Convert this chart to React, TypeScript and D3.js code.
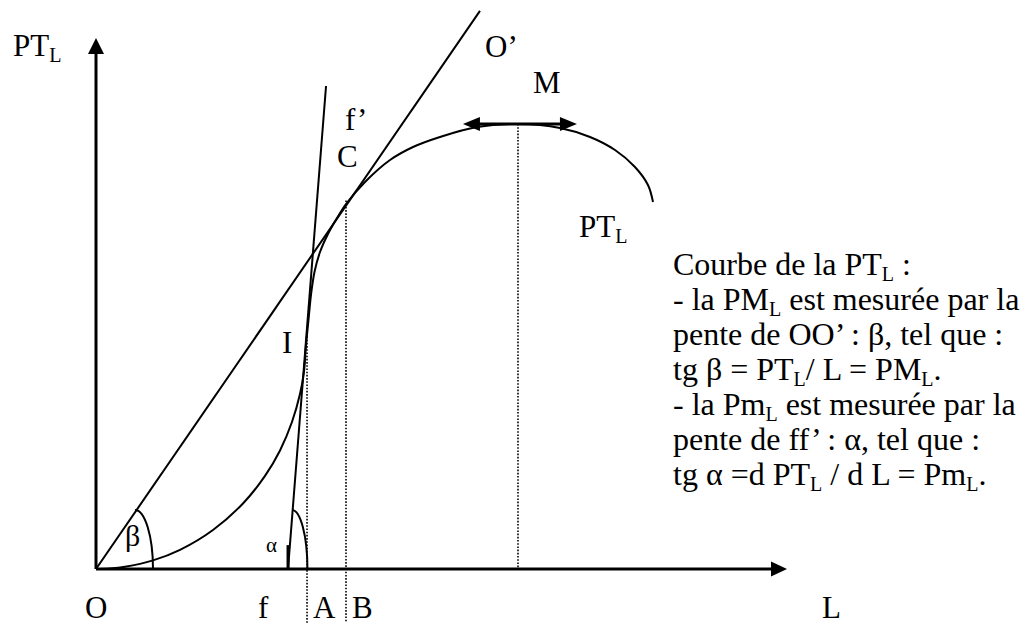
import React from "react";
import * as d3 from "d3";

const W = 1030;
const H = 623;

// Courbe de la PT_L (L, PT_L) in schematic units (axes run 0..100)
const curveL = [0, 2.03, 4.2, 8.25, 12.16, 16.93, 21.27, 24.46, 26.63, 28.36, 29.52, 30.1, 30.39, 30.75, 31.11, 31.62, 32.42, 33.57, 34.88, 36.18, 38.93, 42.55, 45.88, 49.78, 55.14, 61.07, 67.15, 71.49, 75.11, 78.0, 79.88, 80.61];
const curvePT = [0, 0.09, 0.41, 1.62, 3.6, 7.34, 12.34, 17.53, 22.33, 27.68, 32.96, 37.18, 42.18, 46.89, 51.6, 55.93, 59.7, 63.09, 66.1, 68.74, 72.88, 77.02, 79.47, 81.36, 83.24, 83.8, 83.05, 81.36, 78.91, 75.71, 72.32, 69.11];

// Rayon OO' (tangent at C) and tangent ff' (at I)
const rayL = [0, 55.57];
const rayPT = [0, 105.1];
const ffL = [27.79, 33.29];
const ffPT = [0, 90.96];

// Dotted guides: A, B, M
const guideL = [30.54, 36.18, 61.07];
const guideTopPT = [44.4, 69.4, 83.8];
const guideBottomPT = [-10.2, -10.2, 0];

// Horizontal double arrow at the maximum M
const arrowML = [53.1, 69.6];
const arrowMPT = 83.8;

// Angle arcs: [top point, foot point]
const betaArcL = [5.64, 8.25];
const betaArcPT = [11.11, 0];
const alphaArcL = [28.36, 30.6];
const alphaArcPT = [11.11, 0];
const alphaTickPT = [0, 4.5];

const axisMax = 100;

const x = d3.scaleLinear().domain([0, axisMax]).range([96, 787]);
const y = d3.scaleLinear().domain([0, axisMax]).range([569, 38]);

const FONT = "'Liberation Serif', 'Times New Roman', serif";
const FS = 31;
const BFS = 32;
const SUB = 20;
const SUBDY = 6;

type Seg = { t: string; sub?: boolean };

function RichText({ x: px, y: py, segs, size = FS }: { x: number; y: number; segs: Seg[]; size?: number }) {
  let shifted = false;
  return (
    <text x={px} y={py} fontFamily={FONT} fontSize={size} fill="#000" style={{ whiteSpace: "pre" }}>
      {segs.map((s, i) => {
        let dy = 0;
        if (s.sub && !shifted) { dy = SUBDY; shifted = true; }
        else if (!s.sub && shifted) { dy = -SUBDY; shifted = false; }
        return (
          <tspan key={i} dy={dy} fontSize={s.sub ? SUB : size}>{s.t}</tspan>
        );
      })}
    </text>
  );
}

const blockLines: Seg[][] = [
  [{ t: "Courbe de la PT" }, { t: "L", sub: true }, { t: " :" }],
  [{ t: "- la PM" }, { t: "L", sub: true }, { t: " est mesurée par la" }],
  [{ t: "pente de OO’ : β, tel que :" }],
  [{ t: "tg β = PT" }, { t: "L", sub: true }, { t: "/ L = PM" }, { t: "L", sub: true }, { t: "." }],
  [{ t: "- la Pm" }, { t: "L", sub: true }, { t: " est mesurée par la" }],
  [{ t: "pente de ff’ : α, tel que :" }],
  [{ t: "tg α =d PT" }, { t: "L", sub: true }, { t: " / d L = Pm" }, { t: "L", sub: true }, { t: "." }],
];

export default function App() {
  const pts: [number, number][] = curveL.map((l, i) => [l, curvePT[i]]);
  const curvePath = d3
    .line<[number, number]>()
    .x((d) => x(d[0]))
    .y((d) => y(d[1]))
    .curve(d3.curveCatmullRom.alpha(0.5))(pts) as string;

  const x0 = x(0), y0 = y(0);
  const xEnd = x(axisMax), yEnd = y(axisMax);

  const arcPath = (L: number[], P: number[]) => {
    const sx = x(L[0]), sy = y(P[0]), ex = x(L[1]), ey = y(P[1]);
    return `M${sx},${sy} A${Math.abs(ex - sx)},${Math.abs(ey - sy)} 0 0 1 ${ex},${ey}`;
  };

  const ay = y(arrowMPT);
  const axL = x(arrowML[0]);
  const axR = x(arrowML[1]);

  return (
    <svg width={W} height={H} style={{ position: "absolute", left: 0, top: 0, background: "#fff" }}>
      <rect width={W} height={H} fill="#fff" />
      {/* dotted guides */}
      {guideL.map((l, i) => (
        <line key={i} x1={x(l)} x2={x(l)} y1={y(guideTopPT[i])} y2={y(guideBottomPT[i])}
          stroke="#000" strokeWidth={1.6} strokeDasharray="1.6 1.6" />
      ))}
      {/* axes */}
      <line x1={x0} y1={y0} x2={x0} y2={yEnd + 12} stroke="#000" strokeWidth={3} />
      <polygon points={`${x0},${yEnd} ${x0 - 8},${yEnd + 16} ${x0 + 8},${yEnd + 16}`} fill="#000" />
      <line x1={x0} y1={y0} x2={xEnd - 12} y2={y0} stroke="#000" strokeWidth={3} />
      <polygon points={`${xEnd},${y0} ${xEnd - 16},${y0 - 7.5} ${xEnd - 16},${y0 + 7.5}`} fill="#000" />
      {/* ray OO' */}
      <line x1={x(rayL[0])} y1={y(rayPT[0])} x2={x(rayL[1])} y2={y(rayPT[1])} stroke="#000" strokeWidth={2} />
      {/* tangent ff' */}
      <line x1={x(ffL[0])} y1={y(ffPT[0])} x2={x(ffL[1])} y2={y(ffPT[1])} stroke="#000" strokeWidth={2} />
      <line x1={x(ffL[0])} y1={y(alphaTickPT[0])} x2={x(ffL[0])} y2={y(alphaTickPT[1])} stroke="#000" strokeWidth={3} />
      {/* curve */}
      <path d={curvePath} fill="none" stroke="#000" strokeWidth={2} />
      {/* angle arcs */}
      <path d={arcPath(betaArcL, betaArcPT)} fill="none" stroke="#000" strokeWidth={2} />
      <path d={arcPath(alphaArcL, alphaArcPT)} fill="none" stroke="#000" strokeWidth={2} />
      {/* M double arrow */}
      <line x1={axL + 10} y1={ay} x2={axR - 10} y2={ay} stroke="#000" strokeWidth={3} />
      <polygon points={`${axL},${ay} ${axL + 17},${ay - 7} ${axL + 17},${ay + 7}`} fill="#000" />
      <polygon points={`${axR},${ay} ${axR - 17},${ay - 7} ${axR - 17},${ay + 7}`} fill="#000" />

      {/* labels */}
      <RichText x={13} y={56} segs={[{ t: "PT" }, { t: "L", sub: true }]} />
      <RichText x={485} y={57} segs={[{ t: "O’" }]} />
      <RichText x={533} y={93} segs={[{ t: "M" }]} />
      <RichText x={345} y={130} segs={[{ t: "f’" }]} />
      <RichText x={337} y={167} segs={[{ t: "C" }]} />
      <RichText x={579} y={237} segs={[{ t: "PT" }, { t: "L", sub: true }]} />
      <RichText x={282} y={353} segs={[{ t: "I" }]} />
      <RichText x={125} y={546} segs={[{ t: "β" }]} size={30} />
      <RichText x={266} y={552} segs={[{ t: "α" }]} size={21} />
      <RichText x={85} y={618} segs={[{ t: "O" }]} />
      <RichText x={258} y={618} segs={[{ t: "f" }]} />
      <RichText x={313} y={618} segs={[{ t: "A" }]} />
      <RichText x={352} y={618} segs={[{ t: "B" }]} />
      <RichText x={822} y={618} segs={[{ t: "L" }]} />

      {blockLines.map((segs, i) => (
        <RichText key={i} x={673} y={275 + i * 35} segs={segs} size={BFS} />
      ))}
    </svg>
  );
}
